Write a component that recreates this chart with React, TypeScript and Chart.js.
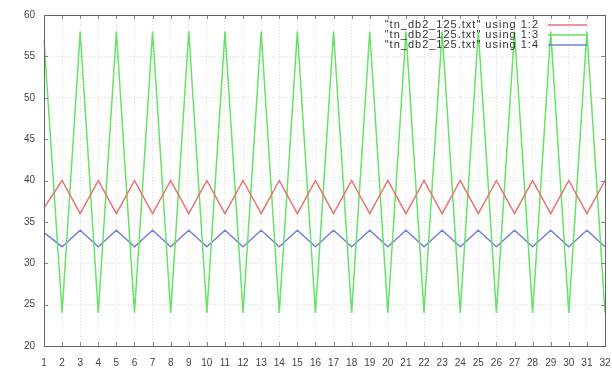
import React, { useEffect, useRef } from "react";
import { Chart, registerables } from "chart.js";

Chart.register(...registerables);

// x tick labels (one per sample)
const xLabels = [
  "1", "2", "3", "4", "5", "6", "7", "8", "9", "10", "11", "12", "13", "14", "15", "16",
  "17", "18", "19", "20", "21", "22", "23", "24", "25", "26", "27", "28", "29", "30", "31", "32",
];

// column 2
const col2 = [
  36.7, 40, 36, 40, 36, 40, 36, 40, 36, 40, 36, 40, 36, 40, 36, 40,
  36, 40, 36, 40, 36, 40, 36, 40, 36, 40, 36, 40, 36, 40, 36, 40,
];

// column 3
const col3 = [
  57, 24, 58, 24, 58, 24, 58, 24, 58, 24, 58, 24, 58, 24, 58, 24,
  58, 24, 58, 24, 58, 24, 58, 24, 58, 24, 58, 24, 58, 24, 58, 24,
];

// column 4
const col4 = [
  33.7, 32, 34, 32, 34, 32, 34, 32, 34, 32, 34, 32, 34, 32, 34, 32,
  34, 32, 34, 32, 34, 32, 34, 32, 34, 32, 34, 32, 34, 32, 34, 32,
];

const seriesNames = [
  '"tn_db2_125.txt" using 1:2',
  '"tn_db2_125.txt" using 1:3',
  '"tn_db2_125.txt" using 1:4',
];

const RED = "#e97272";
const GREEN = "#66e366";
const BLUE = "#7380d8";
const FONT = "Liberation Sans, Arial, sans-serif";
const GRID = "rgba(170,170,170,0.4)";

// inward tick marks on all four borders, gnuplot style
const innerTicks = {
  id: "innerTicks",
  afterDatasetsDraw(chart: any) {
    const { ctx, chartArea: a, scales } = chart;
    ctx.save();
    ctx.strokeStyle = "#888";
    ctx.lineWidth = 1;
    ctx.beginPath();
    const len = 4;
    scales.x.ticks.forEach((_t: any, i: number) => {
      const px = Math.round(scales.x.getPixelForTick(i)) + 0.5;
      ctx.moveTo(px, a.bottom);
      ctx.lineTo(px, a.bottom - len);
      ctx.moveTo(px, a.top);
      ctx.lineTo(px, a.top + len);
    });
    scales.y.ticks.forEach((_t: any, i: number) => {
      const py = Math.round(scales.y.getPixelForTick(i)) + 0.5;
      ctx.moveTo(a.left, py);
      ctx.lineTo(a.left + len, py);
      ctx.moveTo(a.right, py);
      ctx.lineTo(a.right - len, py);
    });
    ctx.stroke();
    ctx.strokeStyle = "#666";
    ctx.strokeRect(Math.round(a.left) + 0.5, Math.round(a.top) + 0.5,
      Math.round(a.right - a.left), Math.round(a.bottom - a.top));
    ctx.restore();
  },
};

// key in the upper right corner, inside the plot
const insideKey = {
  id: "insideKey",
  afterDraw(chart: any) {
    const { ctx, chartArea: a } = chart;
    const colors = [RED, GREEN, BLUE];
    ctx.save();
    ctx.font = `11px ${FONT}`;
    ctx.letterSpacing = "1px";
    ctx.textAlign = "right";
    ctx.textBaseline = "middle";
    const textRight = a.right - 66;
    const lineL = a.right - 57;
    const lineR = a.right - 18;
    seriesNames.forEach((name, i) => {
      const y = a.top + 10 + i * 10;
      ctx.fillStyle = "#333";
      ctx.fillText(name, textRight, y);
      ctx.strokeStyle = colors[i];
      ctx.lineWidth = 1.5;
      ctx.beginPath();
      ctx.moveTo(lineL, y);
      ctx.lineTo(lineR, y);
      ctx.stroke();
    });
    ctx.restore();
  },
};

export default function App() {
  const ref = useRef<HTMLCanvasElement>(null);

  useEffect(() => {
    if (!ref.current) return;
    const mk = (data: number[], color: string) => ({
      data,
      borderColor: color,
      backgroundColor: color,
      borderWidth: 1.5,
      pointRadius: 0,
      tension: 0,
      fill: false,
    });
    const chart = new Chart(ref.current, {
      type: "line",
      data: {
        labels: xLabels,
        datasets: [mk(col2, RED), mk(col3, GREEN), mk(col4, BLUE)],
      },
      options: {
        animation: false,
        responsive: false,
        maintainAspectRatio: false,
        layout: { padding: { top: 15, right: 7, left: 0, bottom: 0 } },
        plugins: { legend: { display: false }, tooltip: { enabled: false } },
        scales: {
          x: {
            offset: false,
            grid: { offset: false, color: GRID, drawTicks: false },
            border: { display: false, dash: [1, 2] },
            ticks: {
              autoSkip: false,
              maxRotation: 0,
              padding: 11,
              color: "#444",
              font: { family: FONT, size: 10 },
            },
            afterFit: (s: any) => {
              s.height = 26;
              s.paddingLeft = 0;
              s.paddingRight = 0;
            },
          },
          y: {
            min: 20,
            max: 60,
            ticks: {
              stepSize: 5,
              padding: 9,
              color: "#444",
              font: { family: FONT, size: 10 },
            },
            grid: { color: GRID, drawTicks: false },
            border: { display: false, dash: [1, 2] },
            afterFit: (s: any) => {
              s.width = 44;
              s.paddingTop = 0;
              s.paddingBottom = 0;
            },
          },
        },
      },
      plugins: [innerTicks, insideKey],
    });
    return () => chart.destroy();
  }, []);

  return (
    <div style={{ position: "absolute", left: 0, top: 0, width: 612, height: 372, background: "#fff" }}>
      <canvas ref={ref} width={612} height={372} />
    </div>
  );
}
